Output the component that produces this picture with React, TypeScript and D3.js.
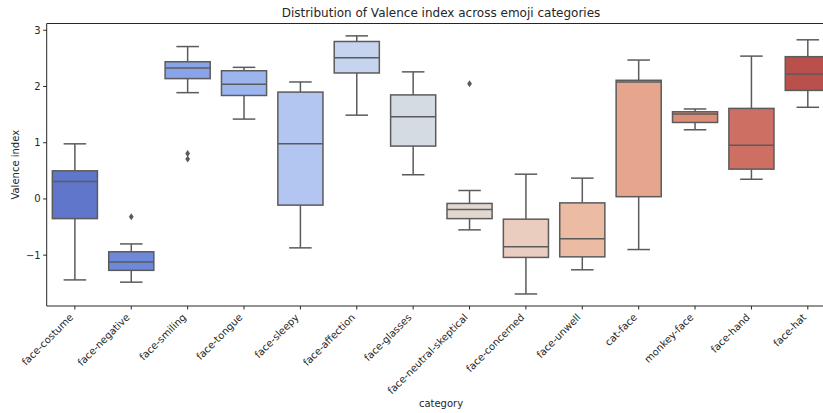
import React from "react";
import * as d3 from "d3";

const categories = [
  "face-costume",
  "face-negative",
  "face-smiling",
  "face-tongue",
  "face-sleepy",
  "face-affection",
  "face-glasses",
  "face-neutral-skeptical",
  "face-concerned",
  "face-unwell",
  "cat-face",
  "monkey-face",
  "face-hand",
  "face-hat",
];

// box stats per category
const whiskerLow = [-1.44, -1.48, 1.89, 1.42, -0.87, 1.49, 0.43, -0.55, -1.69, -1.26, -0.9, 1.23, 0.35, 1.63];
const q1 = [-0.35, -1.27, 2.14, 1.84, -0.11, 2.24, 0.94, -0.35, -1.04, -1.03, 0.04, 1.36, 0.53, 1.93];
const medians = [0.31, -1.12, 2.33, 2.04, 0.98, 2.51, 1.46, -0.19, -0.85, -0.71, 2.08, 1.51, 0.955, 2.22];
const q3 = [0.5, -0.94, 2.44, 2.28, 1.9, 2.8, 1.85, -0.08, -0.36, -0.07, 2.11, 1.55, 1.61, 2.53];
const whiskerHigh = [0.98, -0.8, 2.71, 2.34, 2.08, 2.9, 2.26, 0.15, 0.44, 0.37, 2.47, 1.6, 2.54, 2.83];
const outliers: [string, number][] = [
  ["face-negative", -0.315],
  ["face-smiling", 0.81],
  ["face-smiling", 0.71],
  ["face-neutral-skeptical", 2.05],
];

const colors = [
  "#5f76cb", "#6e89da", "#88a3e7", "#9cb5ee", "#b2c6f1", "#c6d4ef", "#d5dbe3",
  "#e2d8d2", "#eacdbf", "#ebbba4", "#e6a68e", "#dd8c77", "#cd6f62", "#b9504b",
];

const yTicks = [-1, 0, 1, 2, 3];

const W = 823;
const H = 413;
const margin = { left: 46.7, top: 23.5, bottom: 306 };
const plotRight = 836;
const lineColor = "#5b5b5b";
const font = "DejaVu Sans, sans-serif";

export default function App() {
  const x = d3.scaleBand<string>().domain(categories).range([margin.left, plotRight]);
  const y = d3.scaleLinear().domain([-1.904, 3.12]).range([margin.bottom, margin.top]);
  const bw = x.bandwidth();
  const boxW = bw * 0.8;

  return (
    <svg width={W} height={H} style={{ position: "absolute", left: 0, top: 0, background: "#fff" }} fontFamily={font}>
      <text x={441} y={17} textAnchor="middle" fontSize={12} fill="#262626">
        Distribution of Valence index across emoji categories
      </text>
      {categories.map((c, i) => {
        const cx = x(c)! + bw / 2;
        return (
          <g key={c}>
            <line x1={cx} x2={cx} y1={y(whiskerHigh[i])} y2={y(q3[i])} stroke={lineColor} strokeWidth={1.5} />
            <line x1={cx} x2={cx} y1={y(q1[i])} y2={y(whiskerLow[i])} stroke={lineColor} strokeWidth={1.5} />
            <line x1={cx - boxW / 4} x2={cx + boxW / 4} y1={y(whiskerHigh[i])} y2={y(whiskerHigh[i])} stroke={lineColor} strokeWidth={1.5} />
            <line x1={cx - boxW / 4} x2={cx + boxW / 4} y1={y(whiskerLow[i])} y2={y(whiskerLow[i])} stroke={lineColor} strokeWidth={1.5} />
            <rect
              x={cx - boxW / 2}
              y={y(q3[i])}
              width={boxW}
              height={y(q1[i]) - y(q3[i])}
              fill={colors[i]}
              stroke={lineColor}
              strokeWidth={1.5}
            />
            <line x1={cx - boxW / 2} x2={cx + boxW / 2} y1={y(medians[i])} y2={y(medians[i])} stroke={lineColor} strokeWidth={1.5} />
          </g>
        );
      })}
      {outliers.map(([c, v], i) => {
        const cx = x(c)! + bw / 2;
        const cy = y(v);
        return (
          <path key={i} d={`M${cx},${cy - 3.5}L${cx + 2.4},${cy}L${cx},${cy + 3.5}L${cx - 2.4},${cy}Z`} fill={lineColor} />
        );
      })}
      {/* spines */}
      <line x1={margin.left} x2={margin.left} y1={margin.top} y2={margin.bottom} stroke="#262626" strokeWidth={1} />
      <line x1={margin.left} x2={plotRight} y1={margin.top} y2={margin.top} stroke="#262626" strokeWidth={1} />
      <line x1={margin.left} x2={plotRight} y1={margin.bottom} y2={margin.bottom} stroke="#262626" strokeWidth={1} />
      {/* y axis */}
      {yTicks.map((t) => (
        <g key={t}>
          <line x1={margin.left - 3.5} x2={margin.left} y1={y(t)} y2={y(t)} stroke="#262626" />
          <text x={margin.left - 6} y={y(t)} dy="0.35em" textAnchor="end" fontSize={10} fill="#262626">
            {t < 0 ? `\u2212${Math.abs(t)}` : t}
          </text>
        </g>
      ))}
      <text transform={`translate(19,${(margin.top + margin.bottom) / 2}) rotate(-90)`} textAnchor="middle" fontSize={10} fill="#262626">
        Valence index
      </text>
      {/* x axis */}
      {categories.map((c) => {
        const cx = x(c)! + bw / 2;
        return (
          <g key={c}>
            <line x1={cx} x2={cx} y1={margin.bottom} y2={margin.bottom + 3.5} stroke="#262626" />
            <text
              transform={`translate(${cx - 1},${margin.bottom + 12}) rotate(-45)`}
              textAnchor="end"
              fontSize={10}
              fill="#262626"
            >
              {c}
            </text>
          </g>
        );
      })}
      <text x={441} y={407} textAnchor="middle" fontSize={10} fill="#262626">
        category
      </text>
    </svg>
  );
}
